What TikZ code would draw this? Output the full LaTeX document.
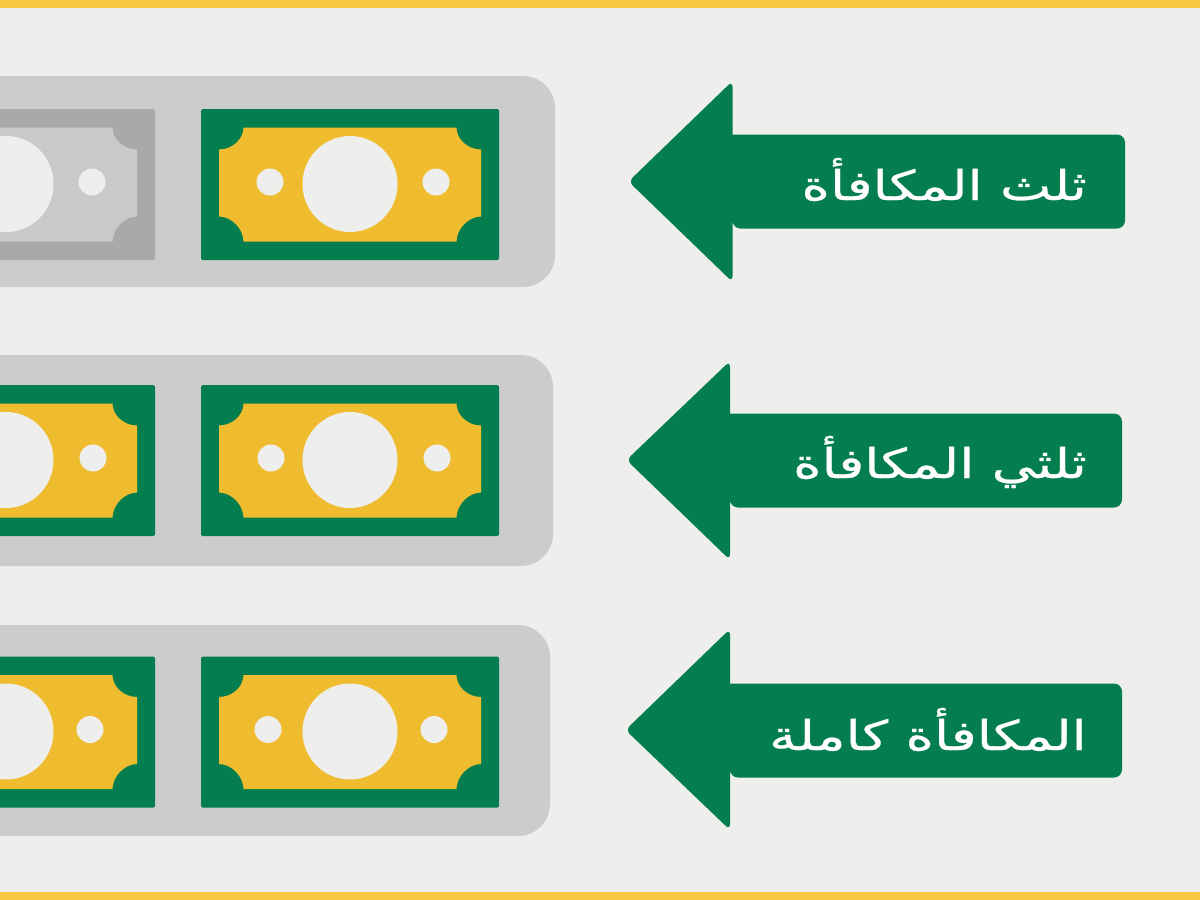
\documentclass[tikz,border=0pt]{standalone}
\usepackage{fontspec}
\TeXXeTstate=1
\newfontfamily\arabicfont[Script=Arabic,FakeStretch=1.33,FakeBold=0.6]{DejaVu Sans}
\definecolor{bgc}{HTML}{EEEEED}
\definecolor{band}{HTML}{F9C840}
\definecolor{panelc}{HTML}{CCCCCC}
\definecolor{greenc}{HTML}{057E4F}
\definecolor{goldc}{HTML}{F0BC2F}
\definecolor{graydark}{HTML}{A9A9A9}
\definecolor{graylight}{HTML}{C9C9C9}
\tikzset{
  panelbox/.style={fill=panelc,rounded corners=32pt},
  arrowlabel/.style={anchor=base east,text=white,inner sep=0pt,font=\arabicfont\fontsize{41}{44}\selectfont}
}
% #1 cx, #2 cy, #3 outer colour, #4 inner colour, #5 dot centre shift
\newcommand{\moneybill}[5]{%
  \begin{scope}[shift={(#1,#2)}]
    \fill[#3,rounded corners=1.5pt] (-149,-75.5) rectangle (149,75.5);
    \fill[#4] (-106.5,-57) -- (106.5,-57)
      .. controls (106.5,-45) and (118,-35) .. (131,-35)
      -- (131,32)
      .. controls (118,32) and (106.5,45) .. (106.5,57)
      -- (-106.5,57)
      .. controls (-106.5,45) and (-118,32) .. (-131,32)
      -- (-131,-35)
      .. controls (-118,-35) and (-106.5,-45) .. (-106.5,-57) -- cycle;
    \fill[bgc] (0,-0.5) ellipse [x radius=47.5,y radius=48];
    \fill[bgc] (#5-83,-2.5) circle [radius=13.5];
    \fill[bgc] (#5+83,-2.5) circle [radius=13.5];
  \end{scope}}
% #1 tip x, #2 tip y, #3 shoulder x, #4 top, #5 bottom, #6 shaft top, #7 shaft bottom, #8 right
\newcommand{\bigarrow}[8]{%
  \fill[greenc] (#3,#6) [rounded corners=8pt] -- (#8,#6) -- (#8,#7) -- (#3,#7)
    [sharp corners] -- (#3,#7) [rounded corners=6pt] -- (#3,#5) -- (#1,#2) -- (#3,#4)
    [sharp corners] -- (#3,#6) -- cycle;}
\begin{document}
\begin{tikzpicture}[x=1pt,y=-1pt]
  \useasboundingbox (0,0) rectangle (1200,900);
  \clip (0,0) rectangle (1200,900);
  \fill[bgc] (0,0) rectangle (1200,900);
  \fill[band] (0,0) rectangle (1200,8);
  \fill[band] (0,892) rectangle (1200,900);
  % panels
  \fill[panelbox] (-60,76) rectangle (555,287);
  \fill[panelbox] (-60,355) rectangle (553,566);
  \fill[panelbox] (-60,625) rectangle (550,836);
  % bills
  \moneybill{6}{184.5}{graydark}{graylight}{3}
  \moneybill{350}{184.5}{greenc}{goldc}{3}
  \moneybill{6}{460.5}{greenc}{goldc}{4}
  \moneybill{350}{460.5}{greenc}{goldc}{4}
  \moneybill{6}{732}{greenc}{goldc}{1}
  \moneybill{350}{732}{greenc}{goldc}{1}
  % arrows
  \bigarrow{628.5}{181.5}{732.5}{81}{282}{134.5}{228.5}{1125}
  \bigarrow{626.5}{460}{730}{361}{560}{413.5}{507.5}{1122}
  \bigarrow{625.5}{730}{730}{629}{830}{683.5}{777.5}{1122}
  % labels
  \node[arrowlabel] (labelone) at (1087,200) {\beginR ثلث المكافأة\endR};
  \node[arrowlabel] (labeltwo) at (1087,478) {\beginR ثلثي المكافأة\endR};
  \node[arrowlabel] (labelthree) at (1087,750) {\beginR المكافأة كاملة\endR};
\end{tikzpicture}
\end{document}
